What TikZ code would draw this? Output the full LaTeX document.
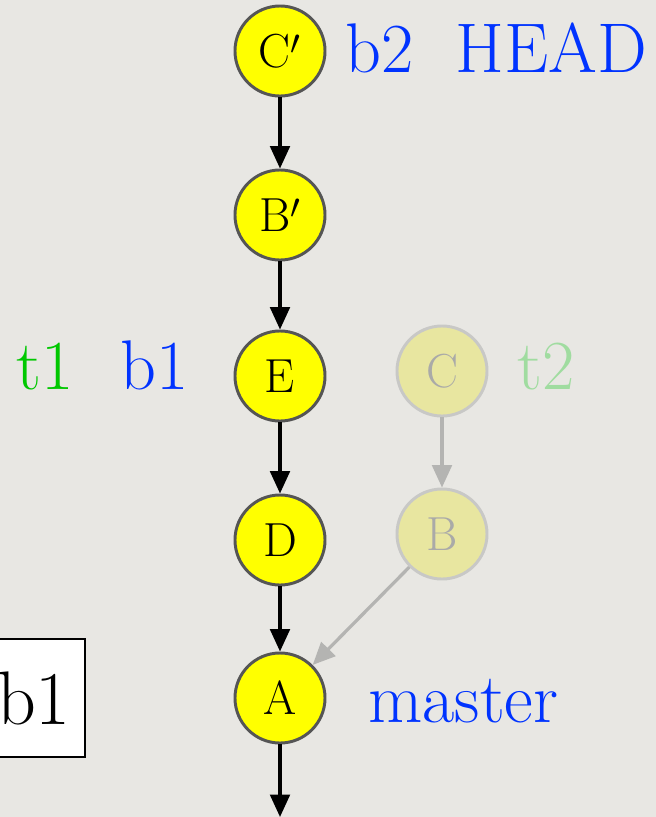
\documentclass[tikz,border=0pt]{standalone}
\usepackage{tikz}
\usetikzlibrary{arrows.meta}

\definecolor{paper}{RGB}{232,231,227}
\definecolor{commitfill}{RGB}{255,255,0}
\definecolor{commitrim}{RGB}{85,85,85}
\definecolor{ghostfill}{RGB}{232,230,160}
\definecolor{ghostrim}{RGB}{200,200,198}
\definecolor{ghosttext}{RGB}{170,170,168}
\definecolor{branchblue}{RGB}{0,51,255}
\definecolor{taggreen}{RGB}{0,200,0}
\definecolor{ghostgreen}{RGB}{160,220,160}

\tikzset{
	commit/.style={circle, draw=commitrim, fill=commitfill, line width=2.1pt,
		minimum size=2.25cm, inner sep=0pt, font=\fontsize{34}{36}\selectfont},
	ghost/.style={commit, draw=ghostrim, fill=ghostfill, text=ghosttext},
	reflabel/.style={anchor=base west, inner sep=0pt, font=\fontsize{50}{54}\selectfont},
	parent/.style={line width=2.3pt, -{Triangle[length=16pt,width=14pt]}},
	ghostparent/.style={parent, draw=ghostrim!90!black},
}

\begin{document}
\begin{tikzpicture}[x=0.025cm, y=-0.025cm]
		%%%%% START %%%%%
		
		\fill[paper] (0, 0) rectangle (656, 817);
		\useasboundingbox (0, 0) rectangle (656, 817);
		
		% rebased commits
		\node[commit] (Cp) at (280, 51) {C$'$};
		\node[commit] (Bp) at (280, 215) {B$'$};
		\node[commit] (E) at (280, 376) {E};
		\node[commit] (D) at (280, 540) {D};
		\node[commit] (A) at (280, 698) {A};
		\coordinate (root) at (280, 817);
		
		% old commits, no longer reachable from b2
		\node[ghost] (C) at (442, 371) {C};
		\node[ghost] (B) at (442, 534) {B};
		
		\draw[parent] (Cp) -- (Bp);
		\draw[parent] (Bp) -- (E);
		\draw[parent] (E) -- (D);
		\draw[parent] (D) -- (A);
		\draw[parent] (A) -- (root);
		
		\draw[ghostparent] (C) -- (B);
		\draw[ghostparent] (B) -- (A);
		
		% refs
		\node[reflabel, text=branchblue] (head) at (345, 72) {b2\ \ HEAD};
		\node[reflabel, text=taggreen] (t1) at (16, 389) {t1};
		\node[reflabel, text=branchblue] (b1) at (120, 389) {b1};
		\node[reflabel, text=ghostgreen] (t2) at (517, 389) {t2};
		\node[reflabel, text=branchblue] (master) at (368, 722) {master};
		
		\node[draw=black, fill=white, line width=1.1pt, inner xsep=0.35cm,
			minimum height=2.95cm, font=\fontsize{54}{58}\selectfont] (box) at (34, 698) {b1};
		
		%%%%% END %%%%%
	\end{tikzpicture}
\end{document}
